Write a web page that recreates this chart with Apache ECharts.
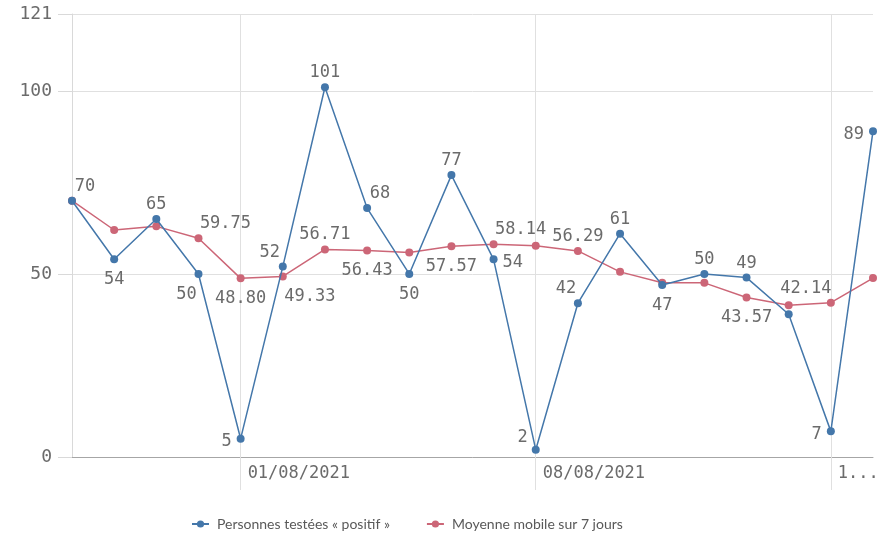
<!DOCTYPE html>
<html>
<head>
<meta charset="utf-8">
<script src="https://cdn.jsdelivr.net/npm/echarts@6/dist/echarts.min.js"></script>
<style>
  html, body { margin: 0; padding: 0; background: #fff; }
  .demo { width: 882px; height: 543px; }
</style>
</head>
<body>
<div class="demo"></div>
<script>
const dates = [
  '28/07/2021', '29/07/2021', '30/07/2021', '31/07/2021', '01/08/2021',
  '02/08/2021', '03/08/2021', '04/08/2021', '05/08/2021', '06/08/2021',
  '07/08/2021', '08/08/2021', '09/08/2021', '10/08/2021', '11/08/2021',
  '12/08/2021', '13/08/2021', '14/08/2021', '15/08/2021', '16/08/2021'
]
const positifs = [70, 54, 65, 50, 5, 52, 101, 68, 50, 77, 54, 2, 42, 61, 47, 50, 49, 39, 7, 89]
const moyenne = [70, 62, 63, 59.75, 48.80, 49.33, 56.71, 56.43, 55.86, 57.57, 58.14, 57.71, 56.29, 50.57, 47.57, 47.57, 43.57, 41.43, 42.14, 48.86]
const yTicks = [0, 50, 100, 121]

// where each value label sits (null = hidden): [position, dx, dy]
const blueLabelLayout = [
  ['top', 13, 0], ['bottom', 0, 0], ['top', 0, 0], ['bottom', -12, 0], ['left', 0, 0],
  ['top', -13, 0], ['top', 0, 0], ['top', 13, 0], ['bottom', 0, 0], ['top', 0, 0],
  ['right', 0, 0], ['top', -13, 2], ['top', -12, 0], ['top', 0, 0], ['bottom', 0, 0],
  ['top', 0, 0], ['top', 0, 0], null, ['left', 0, 0], ['left', 0, 0]
]
const redLabelLayout = [
  null, null, null, ['top', 27, 0], ['bottom', 0, 0],
  ['bottom', 27, 0], ['top', 0, 0], ['bottom', 0, 0], null, ['bottom', 0, 0],
  ['top', 27, 0], null, ['top', 0, 0], null, null,
  null, ['bottom', 0, 0], null, ['top', -25, 0], null
]

const monoFont = 'DejaVu Sans Mono'
const textGray = '#6b6b6b'

function buildData(values, layout, decimals) {
  return values.map((v, i) => {
    const l = layout[i]
    if (!l) return { value: v, label: { show: false } }
    return {
      value: v,
      label: {
        show: true,
        position: l[0],
        offset: [l[1], l[2] + 3],
        formatter: () => v.toFixed(decimals)
      }
    }
  })
}

let myChart = echarts.init(document.querySelector('.demo'))

let option = {
  animation: false,
  grid: { left: 72, right: 9, top: 14, bottom: 86, outerBoundsMode: 'none', containLabel: false },
  legend: {
    bottom: 7,
    left: 186,
    itemWidth: 17,
    itemHeight: 9,
    itemGap: 36,
    textStyle: { color: '#595959', fontFamily: 'Lato', fontSize: 14, padding: [0, 0, 0, 3] },
    data: ['Personnes testées « positif »', 'Moyenne mobile sur 7 jours']
  },
  xAxis: {
    type: 'category',
    data: dates,
    boundaryGap: false,
    axisLine: { lineStyle: { color: '#a6a6a6', width: 1 } },
    axisTick: {
      show: true,
      interval: (i) => i % 7 === 4,
      length: 33,
      lineStyle: { color: '#e0e0e0' }
    },
    axisLabel: {
      interval: (i) => i % 7 === 4,
      align: 'left',
      padding: [0, 0, 0, 7],
      margin: 8,
      color: textGray,
      fontFamily: monoFont,
      fontSize: 17,
      formatter: (v, i) => (i === 18 ? v.slice(0, 1) + '...' : v)
    },
    splitLine: {
      show: true,
      interval: (i) => i % 7 === 4,
      lineStyle: { color: '#e0e0e0' }
    }
  },
  yAxis: {
    type: 'value',
    min: yTicks[0],
    max: yTicks[yTicks.length - 1],
    interval: 50,
    axisLine: { show: true, lineStyle: { color: '#d9d9d9' } },
    axisTick: { show: true, length: 14, lineStyle: { color: '#d9d9d9' } },
    axisLabel: {
      margin: 20,
      color: textGray,
      fontFamily: monoFont,
      fontSize: 18,
      showMaxLabel: true
    },
    splitLine: { lineStyle: { color: '#e0e0e0' } }
  },
  series: [
    {
      name: 'Personnes testées « positif »',
      type: 'line',
      data: buildData(positifs, blueLabelLayout, 0),
      symbol: 'circle',
      symbolSize: 8,
      itemStyle: { color: '#4477aa' },
      lineStyle: { color: '#4477aa', width: 1.5 },
      label: { color: textGray, fontFamily: monoFont, fontSize: 17, distance: 5 },
      z: 3
    },
    {
      name: 'Moyenne mobile sur 7 jours',
      type: 'line',
      data: buildData(moyenne, redLabelLayout, 2),
      symbol: 'circle',
      symbolSize: 8,
      itemStyle: { color: '#cc6677' },
      lineStyle: { color: '#cc6677', width: 1.5 },
      label: { color: textGray, fontFamily: monoFont, fontSize: 17, distance: 5 },
      z: 2
    }
  ]
}

myChart.setOption(option)
</script>
</body>
</html>
